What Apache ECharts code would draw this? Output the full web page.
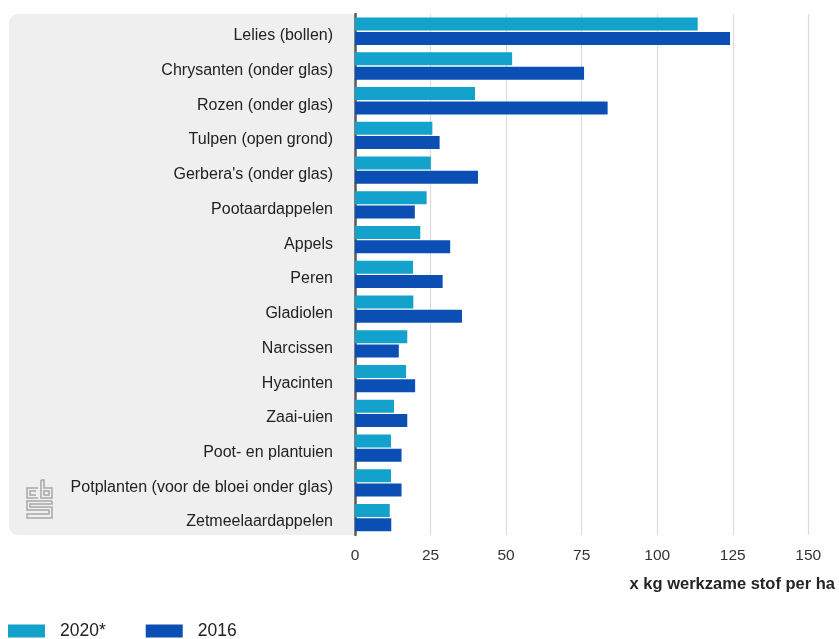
<!DOCTYPE html>
<html>
<head>
<meta charset="utf-8">
<script src="https://cdn.jsdelivr.net/npm/echarts@6/dist/echarts.min.js"></script>
<style>
html,body{margin:0;padding:0;background:#fff;}
#chart{width:839px;height:639px;}
</style>
</head>
<body>
<div id="chart"></div>
<script>
const categories = ["Lelies (bollen)","Chrysanten (onder glas)","Rozen (onder glas)","Tulpen (open grond)","Gerbera's (onder glas)","Pootaardappelen","Appels","Peren","Gladiolen","Narcissen","Hyacinten","Zaai-uien","Poot- en plantuien","Potplanten (voor de bloei onder glas)","Zetmeelaardappelen"];
const values2020 = [113.4,52.0,39.7,25.6,25.1,23.7,21.6,19.2,19.3,17.3,16.9,12.9,11.9,11.9,11.5];
const values2016 = [124.1,75.8,83.6,28.0,40.7,19.8,31.5,29.0,35.4,14.5,19.9,17.3,15.4,15.4,12.0];
const xTicks = [0,25,50,75,100,125,150];
const seriesNames = ["2020*","2016"];
const axisTitle = "x kg werkzame stof per ha";

const chart = echarts.init(document.getElementById('chart'));
const FONT = '"Liberation Sans", Arial, sans-serif';
const logoStyle = {stroke:'#a8a8a8', lineWidth:1.5, fill:null};
chart.setOption({
  animation:false,
  textStyle:{fontFamily:FONT},
  grid:{left:355, right:30.7, top:13.9, bottom:104.1, containLabel:false},
  xAxis:{
    type:'value', min:xTicks[0], max:xTicks[xTicks.length-1], interval:25,
    axisLine:{show:false}, axisTick:{show:false},
    splitLine:{show:true, lineStyle:{color:'#dcdcdc', width:1.2}},
    axisLabel:{color:'#333', fontSize:15.5, margin:13, fontFamily:FONT}
  },
  yAxis:{
    type:'category', data:categories, inverse:true,
    axisLine:{show:true, lineStyle:{color:'#5a5a5a', width:2.5}},
    axisTick:{show:false},
    axisLabel:{color:'#222', fontSize:16, margin:22, fontFamily:FONT, verticalAlign:'top', lineHeight:9}
  },
  legend:{
    left:8, top:622, padding:0, itemWidth:37, itemHeight:13, itemGap:40,
    icon:'rect',
    textStyle:{fontSize:17.5, color:'#222', padding:[0,0,0,10], fontFamily:FONT},
    data:seriesNames
  },
  graphic:[
    {type:'rect', z:-10, silent:true, shape:{x:9, y:14, width:346, height:521, r:[9,0,0,9]}, style:{fill:'#efefef'}},
    {type:'text', right:4, top:576, style:{text:axisTitle, font:'bold 16.5px '+FONT, fill:'#252525', textAlign:'right'}},
    {type:'polyline', z:5, silent:true, shape:{points:[[38,488],[27,488],[27,498],[38,498]]}, style:logoStyle},
    {type:'polyline', z:5, silent:true, shape:{points:[[36,491],[30,491],[30,495],[36,495]]}, style:logoStyle},
    {type:'polyline', z:5, silent:true, shape:{points:[[41,480],[41,498],[52,498],[52,488],[44,488],[44,480],[41,480]]}, style:logoStyle},
    {type:'rect', z:5, silent:true, shape:{x:44, y:491, width:5, height:4}, style:logoStyle},
    {type:'polyline', z:5, silent:true, shape:{points:[[52,501],[27,501],[27,510],[49,510],[49,514],[27,514],[27,518],[52,518],[52,507],[30,507],[30,504],[52,504],[52,501]]}, style:logoStyle}
  ],
  series:[
    {name:seriesNames[0], type:'bar', data:values2020, barWidth:13, barGap:'10%', itemStyle:{color:'#12a2cb'}},
    {name:seriesNames[1], type:'bar', data:values2016, barWidth:13, barGap:'10%', itemStyle:{color:'#0b4fb4'}}
  ]
});
</script>
</body>
</html>
